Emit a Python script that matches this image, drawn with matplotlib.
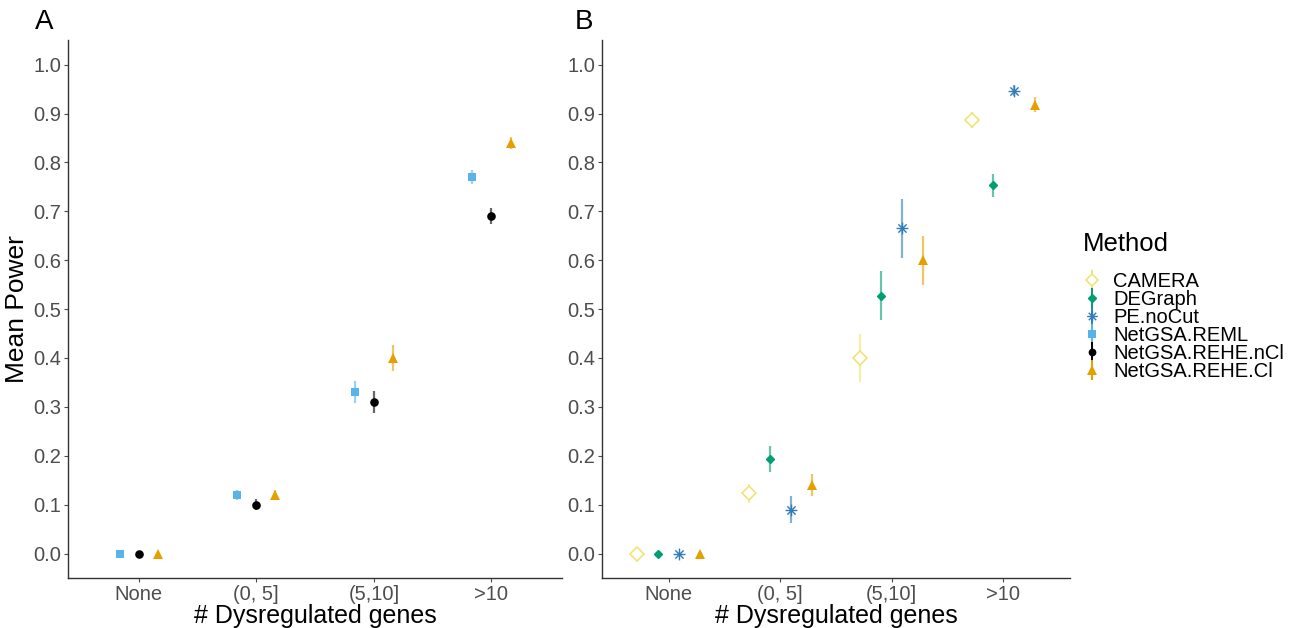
import matplotlib.pyplot as plt
from matplotlib.path import Path

plt.rcParams['font.family'] = ['Liberation Sans', 'DejaVu Sans']

# Data
GROUPS = ['None', '(0, 5]', '(5,10]', '>10']

# Panel A
A_METHODS = ['NetGSA.REML', 'NetGSA.REHE.nCl', 'NetGSA.REHE.Cl']
A_MEAN = {
    'NetGSA.REML': [0.0, 0.12, 0.33, 0.77],
    'NetGSA.REHE.nCl': [0.0, 0.10, 0.31, 0.69],
    'NetGSA.REHE.Cl': [0.0, 0.12, 0.40, 0.84],
}
A_ERR = {
    'NetGSA.REML': [0.0, 0.011, 0.022, 0.015],
    'NetGSA.REHE.nCl': [0.0, 0.011, 0.023, 0.016],
    'NetGSA.REHE.Cl': [0.0, 0.010, 0.026, 0.013],
}

# Panel B
B_METHODS = ['CAMERA', 'DEGraph', 'PE.noCut', 'NetGSA.REHE.Cl']
B_MEAN = {
    'CAMERA': [0.0, 0.123, 0.40, 0.887],
    'DEGraph': [0.0, 0.193, 0.527, 0.753],
    'PE.noCut': [0.0, 0.09, 0.665, 0.947],
    'NetGSA.REHE.Cl': [0.0, 0.14, 0.60, 0.918],
}
B_ERR = {
    'CAMERA': [0.0, 0.02, 0.05, 0.016],
    'DEGraph': [0.0, 0.026, 0.05, 0.024],
    'PE.noCut': [0.0, 0.027, 0.06, 0.012],
    'NetGSA.REHE.Cl': [0.0, 0.023, 0.05, 0.015],
}

# asterisk marker (ggplot shape 8)
STAR_VERTS = [(-1, 0), (1, 0), (0, -1), (0, 1),
              (-0.7, -0.7), (0.7, 0.7), (-0.7, 0.7), (0.7, -0.7)]
STAR_CODES = [Path.MOVETO, Path.LINETO] * 4
ASTERISK = Path(STAR_VERTS, STAR_CODES)

STYLE = {
    'CAMERA': dict(color='#EFE36A', marker='D', ms=7, mfc='white', mew=1.1),
    'DEGraph': dict(color='#009E73', marker='D', ms=4.2, mfc='#009E73', mew=1),
    'PE.noCut': dict(color='#2F7DB8', marker=ASTERISK, ms=8.5, mfc='none', mew=1.0),
    'NetGSA.REML': dict(color='#56B4E9', marker='s', ms=6, mfc='#56B4E9', mew=0),
    'NetGSA.REHE.nCl': dict(color='black', marker='o', ms=6.2, mfc='black', mew=0),
    'NetGSA.REHE.Cl': dict(color='#E69F00', marker='^', ms=7.5, mfc='#E69F00', mew=0),
}

LEGEND_ORDER = ['CAMERA', 'DEGraph', 'PE.noCut', 'NetGSA.REML',
                'NetGSA.REHE.nCl', 'NetGSA.REHE.Cl']


def draw_panel(ax, methods, means, errs, step):
    handles = {}
    n = len(methods)
    for i, m in enumerate(methods):
        off = (i - (n - 1) / 2) * step
        xs = [g + off for g in range(len(GROUPS))]
        st = STYLE[m]
        ax.errorbar(xs, means[m], yerr=errs[m], fmt='none',
                    ecolor=st['color'], elinewidth=1.6, alpha=0.6, capsize=0)
        ax.plot(xs, means[m], linestyle='none', marker=st['marker'],
                markersize=st['ms'], markerfacecolor=st['mfc'],
                markeredgecolor=st['color'], markeredgewidth=st['mew'])
        # proxy artist for the legend
        handles[m] = ax.errorbar([], [], yerr=[], linestyle='none',
                                 marker=st['marker'], color=st['color'],
                                 ms=st['ms'] * 0.9, mfc=st['mfc'],
                                 mec=st['color'], mew=st['mew'],
                                 elinewidth=1.4)
    ax.set_xlim(-0.6, 3.6)
    ax.set_ylim(-0.05, 1.05)
    ax.set_xticks(range(len(GROUPS)))
    ax.set_xticklabels(GROUPS)
    ax.set_yticks([i / 10 for i in range(11)])
    ax.set_yticklabels(['%.1f' % (i / 10) for i in range(11)])
    ax.tick_params(labelsize=14.5, colors='#4D4D4D', length=3, width=0.8,
                   labelcolor='#4D4D4D', pad=2)
    for s in ['top', 'right']:
        ax.spines[s].set_visible(False)
    for s in ['left', 'bottom']:
        ax.spines[s].set_color('#333333')
        ax.spines[s].set_linewidth(1.0)
    ax.set_xlabel('# Dysregulated genes', fontsize=18, labelpad=0)
    return handles


def main():
    fig = plt.figure(figsize=(12.98, 6.28), dpi=100)
    ax_a = fig.add_axes([0.0524, 0.0796, 0.3806, 0.8564])
    ax_b = fig.add_axes([0.4638, 0.0796, 0.3605, 0.8564])

    h_a = draw_panel(ax_a, A_METHODS, A_MEAN, A_ERR, 0.162)
    h_b = draw_panel(ax_b, B_METHODS, B_MEAN, B_ERR, 0.188)
    ax_a.set_ylabel('Mean Power', fontsize=19, labelpad=3)

    fig.text(0.027, 0.965, 'A', fontsize=20, va='center', ha='left')
    fig.text(0.443, 0.965, 'B', fontsize=20, va='center', ha='left')

    handles = {**h_a, **h_b}
    leg = fig.legend([handles[m] for m in LEGEND_ORDER], LEGEND_ORDER,
                     title='Method', loc='center left',
                     bbox_to_anchor=(0.828, 0.512), frameon=False,
                     fontsize=14.5, title_fontsize=18.5, handlelength=0.9,
                     handletextpad=0.6, labelspacing=-0.05, borderaxespad=0)
    leg._legend_box.align = 'left'
    leg._legend_box.sep = 12

    fig.savefig('out.png', dpi=100)


if __name__ == '__main__':
    main()
